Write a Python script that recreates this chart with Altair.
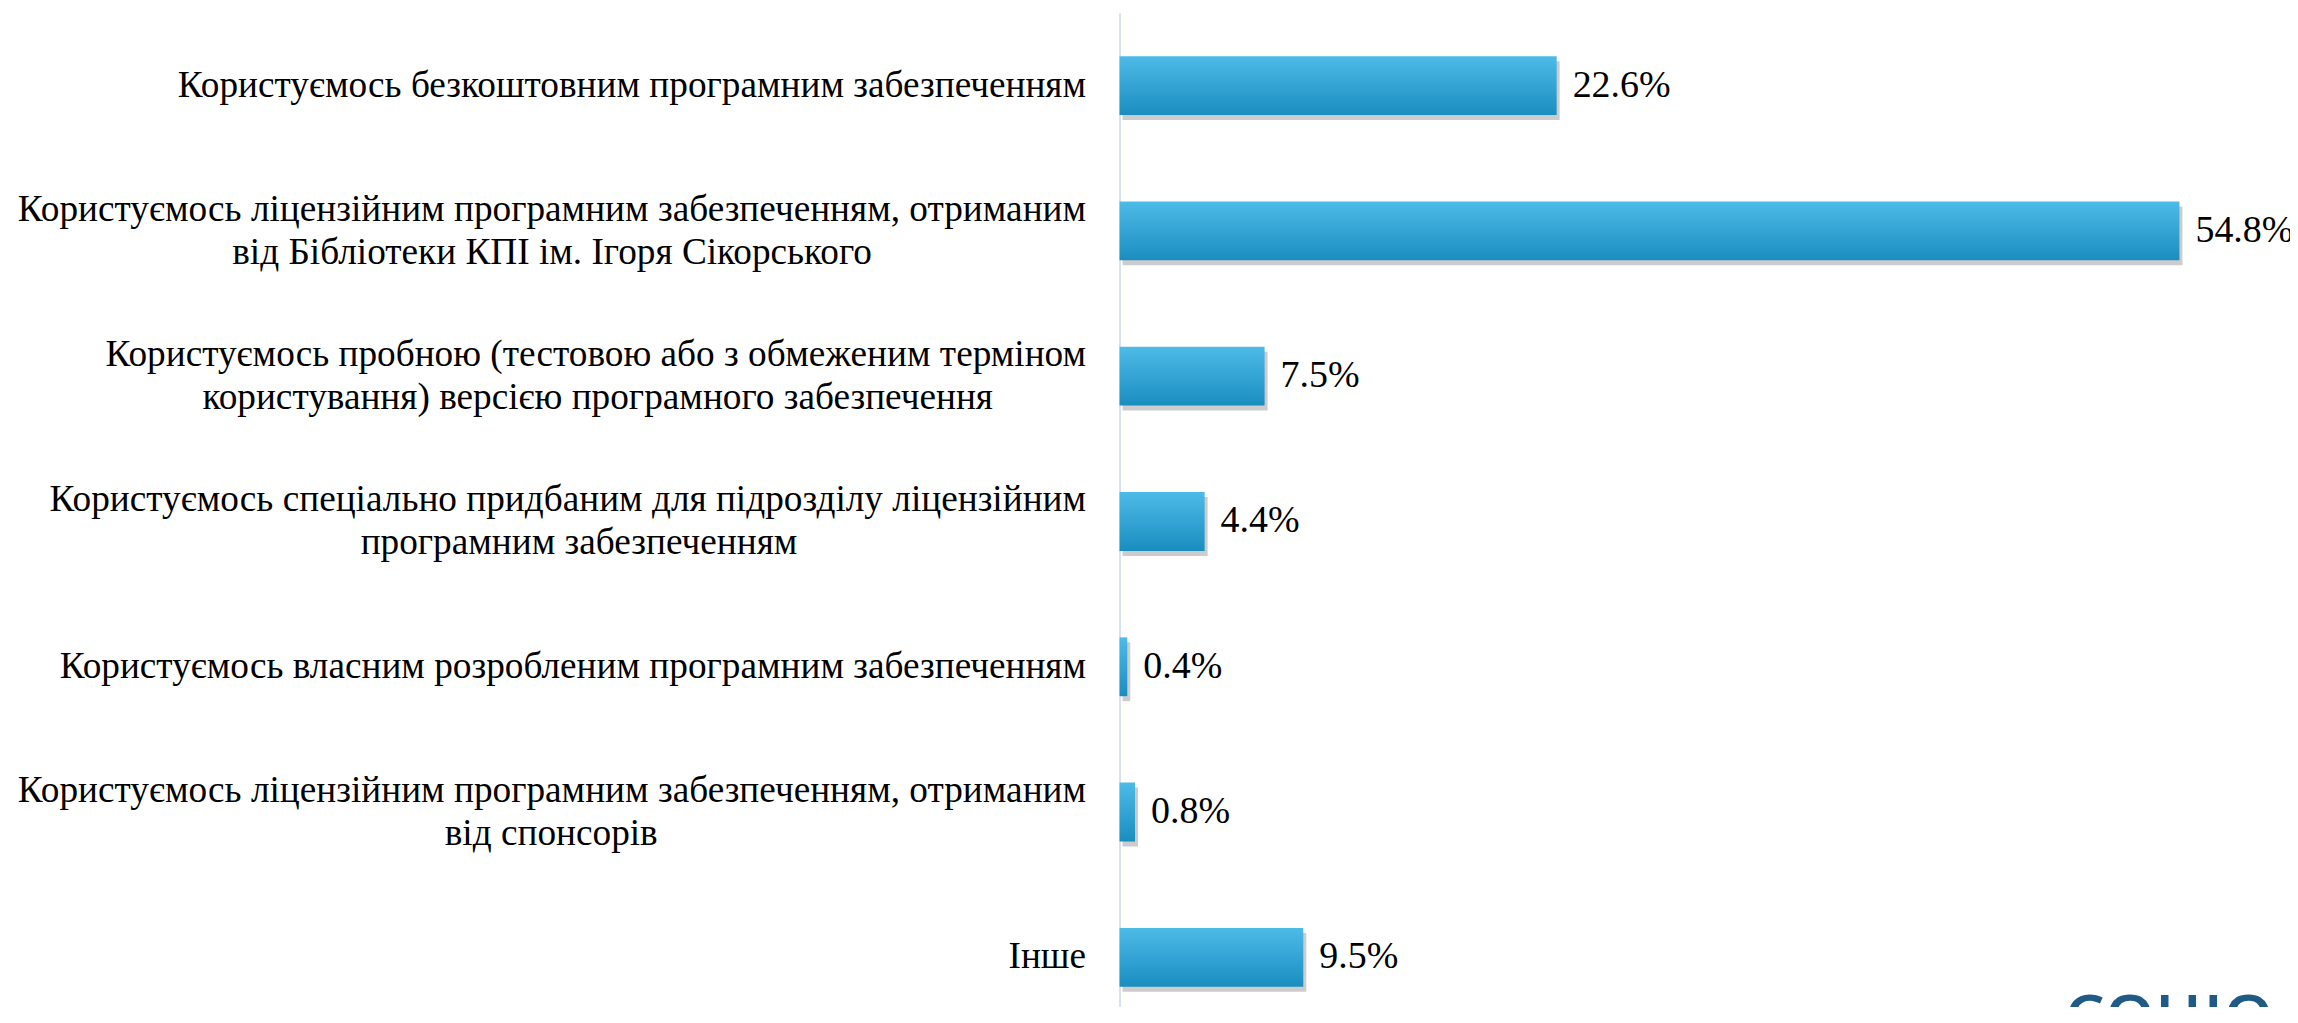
import altair as alt
import pandas as pd

NB = "\u00a0"
WJ = "\u2060"

line1 = [
    "Користуємось безкоштовним програмним забезпеченням",
    "Користуємось ліцензійним програмним забезпеченням, отриманим",
    "Користуємось пробною (тестовою або з обмеженим терміном",
    "Користуємось спеціально придбаним для підрозділу ліцензійним",
    "Користуємось власним розробленим програмним забезпеченням",
    "Користуємось ліцензійним програмним забезпеченням, отриманим",
    "Інше",
]
line2 = [
    "",
    "від Бібліотеки КПІ ім. Ігоря Сікорського",
    "користування) версією програмного забезпечення",
    "програмним забезпеченням",
    "",
    "від спонсорів",
    "",
]
# trailing non-breaking spaces so the second line sits centred under the first
line2_pad = [0, 23, 10, 31, 0, 46, 0]
values = [22.6, 54.8, 7.5, 4.4, 0.4, 0.8, 9.5]
value_labels = ["22.6%", "54.8%", "7.5%", "4.4%", "0.4%", "0.8%", "9.5%"]

categories = [
    a if not b else a + "|" + b + NB * n + WJ
    for a, b, n in zip(line1, line2, line2_pad)
]

df = pd.DataFrame({"cat": categories, "value": values, "lab": value_labels})

FONT = "Liberation Serif"

yenc = alt.Y(
    "cat:N",
    sort=categories,
    scale=alt.Scale(range=[0, 1019], paddingInner=0.595, paddingOuter=0.3),
    axis=alt.Axis(
        title=None,
        labelExpr="split(datum.label, '|')",
        labelFont=FONT,
        labelFontSize=37.3,
        labelColor="black",
        labelLimit=0,
        labelPadding=34,
        ticks=False,
        domainColor="#d6e3ef",
        domainWidth=2,
        labelLineHeight=43,
        grid=False,
        labelAlign="right",
        labelBaseline="middle",
        labelOffset={
            "condition": {"test": "indexof(datum.label, '|') >= 0", "value": -21},
            "value": 0,
        },
    ),
)
xenc = alt.X("value:Q", scale=alt.Scale(domain=[0, 60]), axis=None)

base = alt.Chart(df).encode(y=yenc, x=xenc)

shadow = base.mark_bar(color="#555555", opacity=0.3, xOffset=3, yOffset=5)
bars = base.mark_bar(
    color=alt.Gradient(
        gradient="linear",
        stops=[
            alt.GradientStop(color="#4dbbe8", offset=0),
            alt.GradientStop(color="#1a8dbf", offset=1),
        ],
        x1=0, x2=0, y1=0, y2=1,
    )
)
texts = base.mark_text(
    align="left", baseline="middle", dx=16, font=FONT, fontSize=38, color="black"
).encode(text="lab:N")

logo = alt.Chart(pd.DataFrame({"t": ["СОЦІО"]})).mark_text(
    align="left", baseline="top", font="Open Sans", fontSize=64,
    fontWeight=600, color="#1f5b86"
).encode(x=alt.value(946), y=alt.value(978), text="t:N")

chart = (
    alt.layer(shadow, bars, texts, logo)
    .properties(
        width=1162,
        height=995,
        autosize=alt.AutoSizeParams(type="none"),
        padding={"left": 1113, "top": 4, "right": 10, "bottom": 0},
    )
    .configure_view(stroke=None)
)

chart.save("out.html", embed_options={"renderer": "svg", "actions": False})
